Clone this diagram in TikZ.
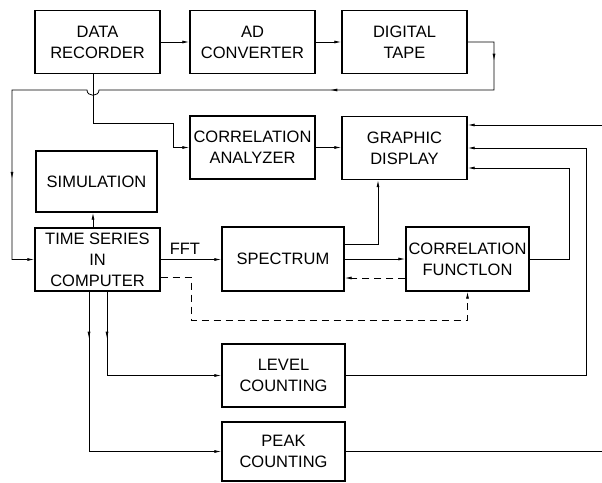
\documentclass[tikz,border=0pt]{standalone}
\usepackage{fontspec}
\newfontfamily\lettering{Liberation Sans}
\usetikzlibrary{arrows.meta,decorations.markings}

\tikzset{
  blk/.style={draw, line width=1.4pt, minimum width=125pt, minimum height=63pt,
    inner sep=0pt, align=center, font={\lettering\fontsize{16.5}{21}\selectfont}},
  link/.style={line width=0.8pt, -{Latex[length=7pt,width=3pt]}},
  dlink/.style={link, dash pattern=on 7pt off 5pt},
  tipat/.style={postaction={decorate,decoration={markings,
    mark=at position #1 with {\arrow{Latex[length=7pt,width=3pt]}}}}}
}

\begin{document}
\begin{tikzpicture}[x=1pt,y=-1pt]
\useasboundingbox (0,0) rectangle (602,482);
% blocks
\node[blk] (rec) at (97.5,42) {DATA\\RECORDER};
\node[blk] (adc) at (252.5,42) {AD\\CONVERTER};
\node[blk] (tape) at (404.5,42) {DIGITAL\\TAPE};
\node[blk] (cor) at (252.5,147.5) {CORRELATION\\ANALYZER};
\node[blk] (disp) at (404.5,148) {GRAPHIC\\DISPLAY};
\node[blk, minimum width=121pt, minimum height=61pt] (sim) at (96.5,181.5) {SIMULATION};
\node[blk] (ts) at (97.5,259.5) {TIME SERIES\\IN\\COMPUTER};
\node[blk, minimum width=122pt, minimum height=64pt] (spec) at (283,259) {SPECTRUM};
\node[blk, minimum width=123pt, minimum height=64pt] (cfun) at (467.5,259) {CORRELATION\\FUNCTLON};
\node[blk, minimum width=123pt] (lev) at (283.5,375.5) {LEVEL\\COUNTING};
\node[blk, minimum width=123pt, minimum height=59pt] (peak) at (283.5,451.5) {PEAK\\COUNTING};

% bends
\coordinate (tapeR) at (494,90);
\coordinate (hopR) at (99,90);
\coordinate (hopL) at (87,90);
\coordinate (leftT) at (12,90);
\coordinate (recT) at (173,123);
\coordinate (cfR) at (569,168);
\coordinate (levR) at (586,148);
\coordinate (peakR) at (605,125);
\coordinate (dsh) at (191,320);

% acquisition chain
\draw[link] (rec) -- (adc);
\draw[link] (adc) -- (tape);
\draw[link, tipat=45pt, tipat=238pt, tipat=651pt] (tape.east) -| (tapeR) -- (hopR)
  .. controls (99,97) and (87,97) .. (hopL) -- (leftT) |- (ts.west);
\draw[link] ([xshift=-4.5pt]rec.south) |- (recT) |- (cor.west);
\draw[link] (cor.east) -- (cor.east -| disp.west);

% analysis
\draw[link] ([xshift=-4.5pt]ts.north) -- ([xshift=-4.5pt]ts.north |- sim.south);
\draw[link] (ts.east) -- node[pos=0.4, above=1pt, font={\lettering\fontsize{16.5}{21}\selectfont}] (fft) {FFT} (ts.east -| spec.west);
\draw[link] (spec.east) -- (spec.east -| cfun.west);
\draw[dlink] ([yshift=-19pt]cfun.west) -- ([yshift=-19pt]cfun.west -| spec.east);
\draw[dlink] ([yshift=-17.5pt]ts.east) -| (dsh) -| (cfun.south);
\draw[link, tipat=47pt] ([xshift=9.5pt]ts.south) |- (lev.west);
\draw[link, tipat=47pt] ([xshift=-8.5pt]ts.south) |- (peak.west);

% back to the display
\draw[link] ([yshift=15pt]spec.east) -| ([xshift=-26.5pt]disp.south);
\draw[link] (cfun.east) -| (cfR) -- (cfR -| disp.east);
\draw[link] (lev.east) -| (levR) -- (levR -| disp.east);
\draw[link] (peak.east) -| (peakR) -- (peakR -| disp.east);
\end{tikzpicture}
\end{document}
